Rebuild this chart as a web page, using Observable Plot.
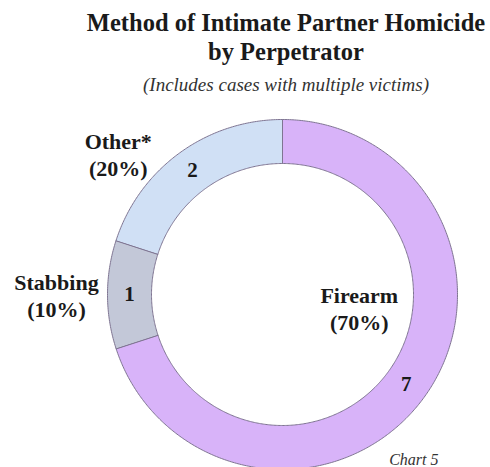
<!DOCTYPE html>
<html>
<head>
<meta charset="utf-8">
<script src="https://cdn.jsdelivr.net/npm/d3@7"></script>
<script src="https://cdn.jsdelivr.net/npm/@observablehq/plot@0.6"></script>
<style>
  body { margin: 0; background: #fff; }
  #wrap { width: 490px; position: relative; font-family: "Liberation Serif", "Times New Roman", serif; color: #1a1a1a; }
  #head { height: 100px; position: relative; }
  #t1, #t2, #sub { position: absolute; left: 0; width: 572px; text-align: center; white-space: nowrap; }
  #t1 { top: 9px; font-weight: bold; font-size: 24.5px; }
  #t2 { top: 38px; font-weight: bold; font-size: 24.5px; }
  #sub { top: 74px; font-style: italic; font-size: 19px; color: #333; }
  svg { display: block; }
</style>
</head>
<body>
<div id="wrap">
  <div id="head">
    <div id="t1">Method of Intimate Partner Homicide</div>
    <div id="t2">by Perpetrator</div>
    <div id="sub">(Includes cases with multiple victims)</div>
  </div>
  <div id="chart"></div>
</div>
<script>
// Data
const categories = ["Firearm", "Stabbing", "Other*"];
const counts = [7, 1, 2];
const percents = ["70%", "10%", "20%"];
const colors = ["#d8b3f9", "#c3c8d8", "#d0e0f5"];
const caption = "Chart 5";

// Layout (pixels)
const W = 490, H = 367;
const cx = 282, cy = 194;
const rOuter = 175, rInner = 131;
// name-label placement: [angle (deg clockwise from top), radius]
const nameLabelPlace = [[100, 78], [270, 226], [310.5, 216]];

const pie = d3.pie().sort(null).value(d => d)(counts);

// Ring polygons (geometry sampling for each slice)
const ring = [];
pie.forEach((p, i) => {
  const n = Math.max(8, Math.ceil((p.endAngle - p.startAngle) / 0.01));
  for (let k = 0; k <= n; k++) {
    const a = p.startAngle + (p.endAngle - p.startAngle) * k / n;
    ring.push({cat: categories[i], x: rOuter * Math.sin(a), y: rOuter * Math.cos(a)});
  }
  for (let k = n; k >= 0; k--) {
    const a = p.startAngle + (p.endAngle - p.startAngle) * k / n;
    ring.push({cat: categories[i], x: rInner * Math.sin(a), y: rInner * Math.cos(a)});
  }
});

const rMid = (rOuter + rInner) / 2;
const valueLabels = pie.map((p, i) => {
  const a = (p.startAngle + p.endAngle) / 2;
  return {text: String(counts[i]), x: rMid * Math.sin(a), y: rMid * Math.cos(a)};
});
const nameLabels = categories.map((c, i) => {
  const a = nameLabelPlace[i][0] * Math.PI / 180, r = nameLabelPlace[i][1];
  return {text: `${c}\n(${percents[i]})`, x: r * Math.sin(a), y: r * Math.cos(a)};
});

const plot = Plot.plot({
  width: W,
  height: H,
  margin: 0,
  x: {domain: [-cx, W - cx], axis: null},
  y: {domain: [cy - H, cy], axis: null},
  color: {domain: categories, range: colors},
  style: {fontFamily: "'Liberation Serif', 'Times New Roman', serif", background: "#fff"},
  marks: [
    Plot.line(ring, {x: "x", y: "y", z: "cat", fill: "cat", stroke: "#7f7592", strokeWidth: 1, curve: "linear-closed"}),
    Plot.text(valueLabels, {x: "x", y: "y", text: "text", fontSize: 21, fontWeight: "bold", fill: "#1a1a1a"}),
    Plot.text(nameLabels, {x: "x", y: "y", text: "text", fontSize: 22, fontWeight: "bold", fill: "#1a1a1a", lineHeight: 1.22}),
    Plot.text([caption], {frameAnchor: "bottom-right", text: d => d, dx: -52, dy: -3, fontSize: 16, fontStyle: "italic", fill: "#333"})
  ]
});
document.getElementById("chart").appendChild(plot);
</script>
</body>
</html>
